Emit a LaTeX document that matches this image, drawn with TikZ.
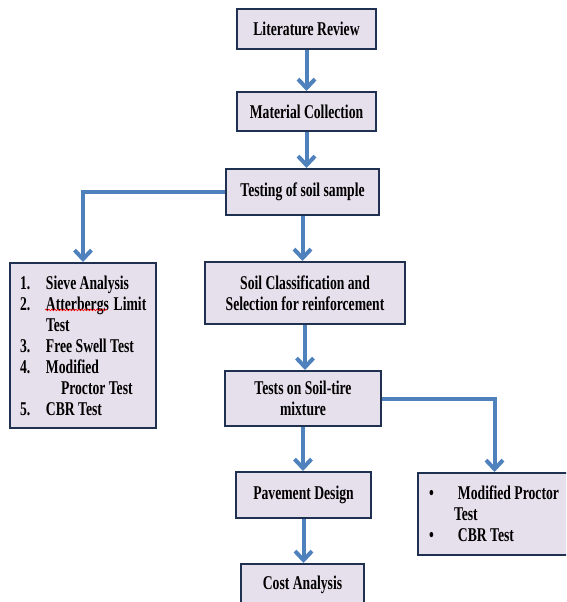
\documentclass[tikz,border=0pt]{standalone}
\usepackage{fontspec}
\setmainfont{Liberation Serif}
\newfontfamily\boxfont[FakeStretch=0.7]{Liberation Serif}
\newcommand\boxtext{\boxfont\bfseries\fontsize{19.5}{21}\selectfont\setlength\spaceskip{3.4pt plus 1pt minus 1pt}}
\usetikzlibrary{arrows.meta,decorations.pathmorphing}
\definecolor{boxfill}{HTML}{E6E0EC}
\definecolor{boxline}{HTML}{1F3050}
\definecolor{flowblue}{HTML}{4F81BD}

\begin{document}
\begin{tikzpicture}[x=1pt, y=-1pt, >={Straight Barb[length=9pt,width=17pt]},
  box/.style={draw=boxline, line width=2pt, fill=boxfill, rectangle, align=center, inner sep=2pt, font=\boxtext},
  flow/.style={->, flowblue, line width=4pt}]
\useasboundingbox (0,0) rectangle (566,602);
\clip (0,0) rectangle (566,602);

% Etapas principais
\node[box, minimum width=139pt, minimum height=40pt] (lit) at (306.5,29) {Literature Review};
\node[box, minimum width=139pt, minimum height=39pt] (mat) at (306.5,111.5) {Material Collection};
\node[box, minimum width=153pt, minimum height=46pt] (test) at (302.5,192) {Testing of soil sample};
\node[box, minimum width=200pt, minimum height=62pt] (soil) at (305,293) {Soil Classification and\\Selection for reinforcement};
\node[box, minimum width=156pt, minimum height=55pt] (mix) at (303,398.5) {Tests on Soil-tire\\mixture};
\node[box, minimum width=135pt, minimum height=46pt] (pav) at (303.5,495) {Pavement Design};
\node[box, minimum width=123pt, minimum height=42pt] (cost) at (302.5,585) {Cost Analysis};

% Listas de ensaios
\node[box, align=flush left, anchor=north west, inner xsep=10pt, text width=126pt, minimum height=165pt] (list) at (9,262) {%
\makebox[26pt][l]{1.}Sieve~Analysis\\
\makebox[26pt][l]{2.}Atterbergs~~Limit\\
\hspace*{26pt}Test\\
\makebox[26pt][l]{3.}Free~Swell~Test\\
\makebox[26pt][l]{4.}Modified\\
\hspace*{41pt}Proctor~Test\\
\makebox[26pt][l]{5.}CBR~Test};
\node[box, align=flush left, anchor=north west, inner xsep=11pt, text width=131pt, minimum height=82pt] (right) at (417,472) {%
\makebox[29pt][l]{\textbullet}Modified~Proctor\\
\hspace*{25pt}Test\\
\makebox[29pt][l]{\textbullet}CBR~Test};
\draw[red, line width=0.6pt, decorate, decoration={snake, amplitude=0.8pt, segment length=3pt}] (45,310) -- (107,310);

% Setas
\draw[flow] (lit) -- (mat);
\draw[flow] (mat.south) -- (mat.south|-test.north);
\draw[flow] (test.south) -- (test.south|-soil.north);
\draw[flow] (test.west) -| (list.north);
\draw[flow] (soil.south) -- (soil.south|-mix.north);
\draw[flow] (mix.east) -| (right.north);
\draw[flow] (mix.south) -- (mix.south|-pav.north);
\draw[flow] (pav.south) -- (pav.south|-cost.north);
\end{tikzpicture}
\end{document}
